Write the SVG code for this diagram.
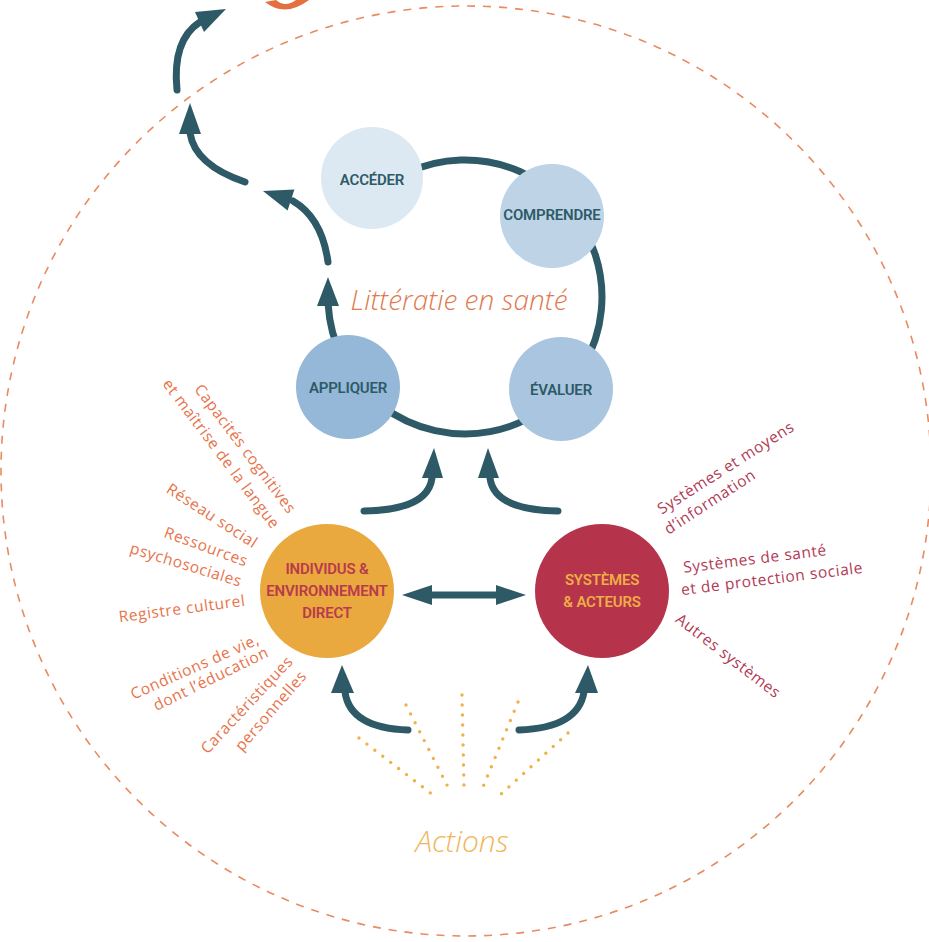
<svg xmlns="http://www.w3.org/2000/svg" width="929" height="942" viewBox="0 0 929 942">
<style>
.arr{fill:none;stroke:#2d5a66;stroke-width:7;stroke-linecap:round}
.head{fill:#2d5a66}
.lbl{font-family:Roboto,"Liberation Sans",sans-serif;font-weight:600;font-size:15px;letter-spacing:-0.2px;text-anchor:middle}
.cyc{fill:#2d5a66}
.lt{font-family:"Open Sans","Liberation Sans",sans-serif;font-size:15.5px;letter-spacing:0.6px;fill:#e8734a;text-anchor:middle}
.rt{font-family:"Open Sans","Liberation Sans",sans-serif;font-size:15.5px;letter-spacing:0.6px;fill:#b23a55;text-anchor:middle}
.dots{fill:none;stroke:#f0b04a;stroke-width:3.4;stroke-linecap:round;stroke-dasharray:0 10}
.hand{font-family:"Open Sans","Liberation Sans",sans-serif;font-style:italic;font-weight:300;text-anchor:middle}
</style>
<rect width="929" height="942" fill="#ffffff"/>
<circle cx="466" cy="471" r="465" fill="none" stroke="#e98a60" stroke-width="1.6" stroke-dasharray="8 8"/>
<path d="M265 2 Q285 18 309 0 L296 0 Q285 8 276 0 Z" fill="#e3703e"/>
<g id="connectors">
<path class="arr" d="M407.1 172.8 A137 137 0 1 1 328.2 305"/>
<polygon class="head" points="328,277 317,306 339,306"/>
<path class="arr" d="M328 262 Q322 218 293 201"/>
<polygon class="head" points="263,191 294.4,189.5 287.6,210.5"/>
<path class="arr" d="M245 182 Q195 165 190 133"/>
<polygon class="head" points="190,103 179,134 201,134"/>
<path class="arr" d="M177 90 Q172 40 200 22"/>
<polygon class="head" points="226,9 195,12 204,32"/>
<path class="arr" d="M364 511 Q428 510 432 478"/>
<polygon class="head" points="434,448 422,478 443,478"/>
<path class="arr" d="M558 511 Q494 510 490 478"/>
<polygon class="head" points="488,448 478,478 499,478"/>
<path class="arr" d="M408 730 Q350 728 345 692"/>
<polygon class="head" points="342,665 331,693 354,693"/>
<path class="arr" d="M519 730 Q578 728 584 692"/>
<polygon class="head" points="588,665 575,693 598,693"/>
<line x1="430" y1="595" x2="498" y2="595" stroke="#2d5a66" stroke-width="7"/>
<polygon class="head" points="402,595 432,585 432,605"/>
<polygon class="head" points="526,595 496,585 496,605"/>
</g>
<g id="acceder"><circle cx="372" cy="178" r="51" fill="#dce8f2"/><text class="lbl cyc" x="372" y="185">ACCÉDER</text></g>
<g id="comprendre"><circle cx="552" cy="216" r="52" fill="#bed3e6"/><text class="lbl cyc" x="552" y="220">COMPRENDRE</text></g>
<g id="appliquer"><circle cx="348" cy="387" r="52" fill="#95b8d9"/><text class="lbl cyc" x="348" y="393">APPLIQUER</text></g>
<g id="evaluer"><circle cx="561" cy="389" r="52" fill="#a9c5e0"/><text class="lbl cyc" x="561" y="395">ÉVALUER</text></g>
<text class="hand" x="459" y="310" font-size="28" fill="#e07a50">Littératie en santé</text>
<g id="individus"><circle cx="327" cy="591" r="67" fill="#e9a93f"/>
<text class="lbl" fill="#b93a4c"><tspan x="327" y="574">INDIVIDUS &amp;</tspan><tspan x="327" y="596">ENVIRONNEMENT</tspan><tspan x="327" y="618">DIRECT</tspan></text></g>
<g id="systemes"><circle cx="602" cy="591" r="67" fill="#b5344c"/>
<text class="lbl" fill="#eeae45"><tspan x="602" y="585">SYSTÈMES</tspan><tspan x="602" y="607">&amp; ACTEURS</tspan></text></g>
<g id="facteurs-individus">
<text class="lt" transform="translate(245 449) rotate(53)" x="0" y="5">Capacités cognitives</text>
<text class="lt" transform="translate(221 454) rotate(53)" x="0" y="5">et maîtrise de la langue</text>
<text class="lt" transform="translate(212 516) rotate(33)" x="0" y="5">Réseau social</text>
<text class="lt" transform="translate(206 547) rotate(20)" x="0" y="5">Ressources</text>
<text class="lt" transform="translate(186 565) rotate(17)" x="0" y="5">psychosociales</text>
<text class="lt" transform="translate(182 609) rotate(-7.5)" x="0" y="5">Registre culturel</text>
<text class="lt" transform="translate(195 667) rotate(-24)" x="0" y="5">Conditions de vie,</text>
<text class="lt" transform="translate(211 679) rotate(-26)" x="0" y="5">dont l’éducation</text>
<text class="lt" transform="translate(247 705) rotate(-47)" x="0" y="5">Caractéristiques</text>
<text class="lt" transform="translate(271 711) rotate(-49)" x="0" y="5">personnelles</text>
</g>
<g id="facteurs-systemes">
<text class="rt" transform="translate(726 468) rotate(-32.5)" x="0" y="5">Systèmes et moyens</text>
<text class="rt" transform="translate(710 502) rotate(-33)" x="0" y="5">d’information</text>
<text class="rt" transform="translate(755 559) rotate(-7)" x="0" y="5">Systèmes de santé</text>
<text class="rt" transform="translate(772 579) rotate(-7)" x="0" y="5">et de protection sociale</text>
<text class="rt" transform="translate(728 656) rotate(37.5)" x="0" y="5">Autres systèmes</text>
</g>
<g id="actions">
<line class="dots" x1="359" y1="738" x2="433" y2="795"/>
<line class="dots" x1="406" y1="705" x2="448" y2="787"/>
<line class="dots" x1="462" y1="695" x2="464" y2="787"/>
<line class="dots" x1="518" y1="702" x2="483" y2="787"/>
<line class="dots" x1="568" y1="733" x2="500" y2="795"/>
<text class="hand" x="462" y="852" font-size="30" fill="#f0b65a">Actions</text>
</g>
</svg>
